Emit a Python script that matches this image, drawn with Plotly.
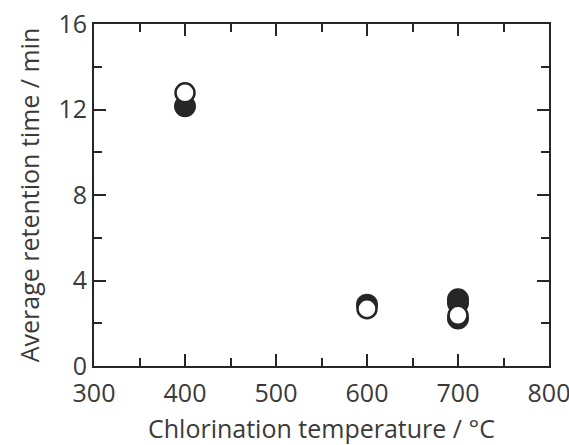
import plotly.graph_objects as go

# Data
filled_temp = [400, 600, 700, 700, 700]
filled_time = [12.15, 2.87, 3.12, 2.95, 2.22]
open_temp = [400, 600, 700]
open_time = [12.78, 2.68, 2.37]

x_ticks = [300, 400, 500, 600, 700, 800]
y_ticks = [0, 4, 8, 12, 16]

ink = "#262626"
txt = "#3a3a3a"
font_family = "Open Sans, Noto Sans, sans-serif"
fs = 25

fig = go.Figure()
fig.add_trace(go.Scatter(
    x=filled_temp, y=filled_time, mode="markers",
    marker=dict(symbol="circle", size=20, color=ink, line=dict(color=ink, width=2)),
    showlegend=False, cliponaxis=False))
fig.add_trace(go.Scatter(
    x=open_temp, y=open_time, mode="markers",
    marker=dict(symbol="circle", size=19, color="white", line=dict(color=ink, width=2.5)),
    showlegend=False, cliponaxis=False))

axis_common = dict(
    showline=True, linecolor=ink, linewidth=2, mirror="allticks",
    ticks="inside", tickwidth=2, tickcolor=ink, ticklen=12,
    showgrid=False, zeroline=False, automargin=False,
    ticklabeloverflow="allow",
    tickfont=dict(family=font_family, size=fs, color=txt),
)

fig.update_xaxes(
    range=[300, 800], tickvals=x_ticks, ticktext=[str(v) for v in x_ticks],
    ticklabelstandoff=4,
    minor=dict(dtick=50, ticks="inside", ticklen=8, tickwidth=2, tickcolor=ink, showgrid=False),
    title=dict(text="Chlorination temperature / °C", standoff=24,
               font=dict(family=font_family, size=fs, color=txt)),
    **axis_common)
fig.update_yaxes(
    range=[0, 16], tickvals=y_ticks, ticktext=[str(v) for v in y_ticks],
    minor=dict(dtick=2, ticks="inside", ticklen=8, tickwidth=2, tickcolor=ink, showgrid=False),
    title=dict(text="Average retention time / min", standoff=12,
               font=dict(family=font_family, size=fs, color=txt)),
    **axis_common)

fig.update_layout(
    width=569, height=445,
    margin=dict(l=94, r=20, t=24, b=79),
    plot_bgcolor="white", paper_bgcolor="white",
)

fig.write_html("out.html")
